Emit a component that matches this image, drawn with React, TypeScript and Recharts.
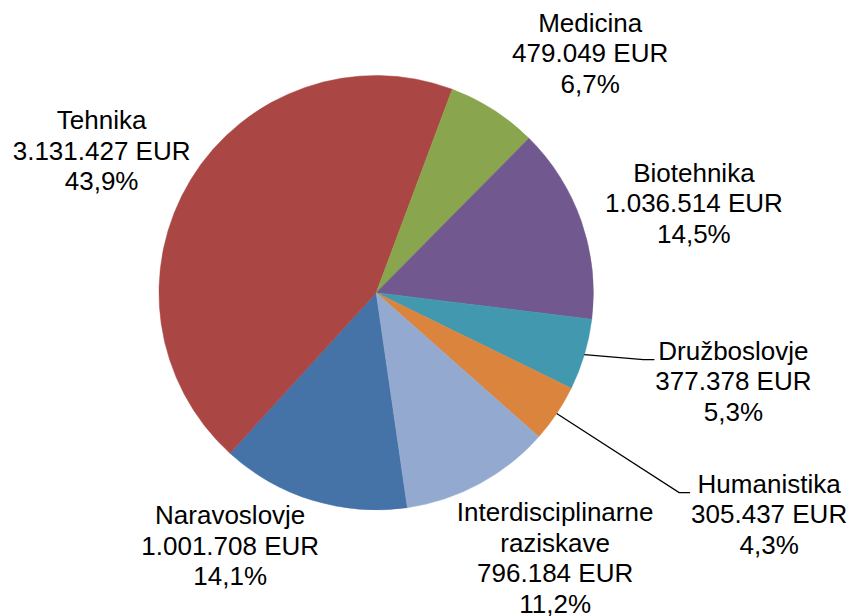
import { PieChart, Pie, Cell } from "recharts"

const categories = [
  "Naravoslovje",
  "Tehnika",
  "Medicina",
  "Biotehnika",
  "Družboslovje",
  "Humanistika",
  "Interdisciplinarne raziskave",
]
const amounts = [1001708, 3131427, 479049, 1036514, 377378, 305437, 796184]
const colors = ["#4572A7", "#AA4643", "#89A54E", "#71588F", "#4198AF", "#DB843D", "#93A9CF"]

// label placement: distance from centre and angle (deg, clockwise from 12 o'clock)
const labelRadius = [292, 309, 321, 330, 368, 451, 320]
const labelAngle = [210, 297.3, 41.8, 74.3, 103.9, 119.4, 146]
const hasLeader = [false, false, false, false, true, true, false]

const data = categories.map((name, i) => ({ name, value: amounts[i] }))
const total = amounts.reduce((a, b) => a + b, 0)

const FONT = 26
const LINE = 30.5
const RAD = Math.PI / 180

function formatEur(v: number) {
  return String(v).replace(/\B(?=(\d{3})+(?!\d))/g, ".") + " EUR"
}

function formatPct(v: number) {
  return ((v / total) * 100).toFixed(1).replace(".", ",") + "%"
}

function splitName(name: string) {
  return name.length > 14 ? name.split(" ") : [name]
}

// eslint-disable-next-line @typescript-eslint/no-explicit-any
function renderLabel(props: any) {
  const { cx, cy, midAngle, outerRadius, index } = props
  const name = categories[index]
  const lines = [...splitName(name), formatEur(amounts[index]), formatPct(amounts[index])]
  const a = labelAngle[index] * RAD
  const x = cx + labelRadius[index] * Math.sin(a)
  const yMid = cy - labelRadius[index] * Math.cos(a)
  const first = yMid + 9 - ((lines.length - 1) * LINE) / 2

  let leader = null
  if (hasLeader[index]) {
    const sx = cx + outerRadius * Math.cos(-midAngle * RAD)
    const sy = cy + outerRadius * Math.sin(-midAngle * RAD)
    const ex = x - 79
    leader = (
      <path
        d={`M${sx},${sy} L${ex - 11},${first} L${ex},${first}`}
        stroke="#000"
        strokeWidth={1.3}
        fill="none"
      />
    )
  }

  return (
    <g key={`lbl-${index}`}>
      {leader}
      <text
        x={x}
        y={first}
        textAnchor="middle"
        fontSize={FONT}
        fontFamily="'Liberation Sans', Arial, sans-serif"
        fill="#000"
      >
        {lines.map((l, i) => (
          <tspan key={i} x={x} y={first + i * LINE}>
            {l}
          </tspan>
        ))}
      </text>
    </g>
  )
}

export default function App() {
  return (
    <div style={{ position: "absolute", left: 0, top: 0, width: 853, height: 616, background: "#fff" }}>
      <PieChart
        width={853}
        height={616}
        margin={{ top: 0, right: 0, bottom: 0, left: 0 }}
        style={{ overflow: "visible" }}
      >
        <Pie
          data={data}
          dataKey="value"
          nameKey="name"
          cx={376.2}
          cy={292.7}
          outerRadius={217.2}
          startAngle={-81.74}
          endAngle={-441.74}
          label={renderLabel}
          labelLine={false}
          isAnimationActive={false}
        >
          {data.map((d, i) => (
            <Cell key={d.name} fill={colors[i]} stroke={colors[i]} strokeWidth={0.5} />
          ))}
        </Pie>
      </PieChart>
    </div>
  )
}
